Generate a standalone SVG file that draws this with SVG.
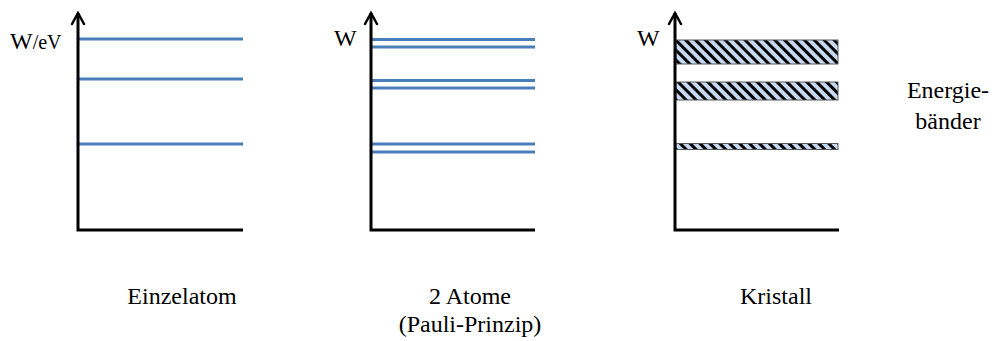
<svg xmlns="http://www.w3.org/2000/svg" width="998" height="341" viewBox="0 0 998 341">
<style>
.ax{stroke:#000;stroke-width:3;fill:none}
.arr{stroke:#000;stroke-width:2.5;fill:none;stroke-linecap:round;stroke-linejoin:miter}
.lvl{stroke:#4a7ebb;stroke-width:3}
.band{fill:url(#hatch);stroke:#595959;stroke-width:1}
.t{font-family:"Liberation Serif","Times New Roman",serif;font-size:24px;fill:#000}
</style>
<defs>
<pattern id="hatch" patternUnits="userSpaceOnUse" width="7" height="7" patternTransform="rotate(-45)">
<rect width="7" height="7" fill="#c6d9f1"/>
<rect x="0" y="0" width="3" height="7" fill="#000"/>
</pattern>
</defs>
<g id="einzelatom">
<text class="t" x="10" y="49">W<tspan font-size="20">/eV</tspan></text>
<line class="lvl" x1="79" y1="39" x2="243" y2="39"/>
<line class="lvl" x1="79" y1="79" x2="243" y2="79"/>
<line class="lvl" x1="79" y1="144" x2="243" y2="144"/>
<text class="t" x="182" y="304" text-anchor="middle">Einzelatom</text>
</g>
<g id="zwei-atome">
<text class="t" x="334" y="46">W</text>
<line class="lvl" x1="371" y1="39.5" x2="535" y2="39.5"/>
<line class="lvl" x1="371" y1="47" x2="535" y2="47"/>
<line class="lvl" x1="371" y1="80.5" x2="535" y2="80.5"/>
<line class="lvl" x1="371" y1="88" x2="535" y2="88"/>
<line class="lvl" x1="371" y1="144" x2="535" y2="144"/>
<line class="lvl" x1="371" y1="152" x2="535" y2="152"/>
<text class="t" x="470" y="304" text-anchor="middle">2 Atome</text>
<text class="t" x="470" y="332" text-anchor="middle">(Pauli-Prinzip)</text>
</g>
<g id="kristall">
<text class="t" x="637" y="46">W</text>
<rect class="band" x="676" y="40" width="162" height="24"/>
<rect class="band" x="676" y="82" width="162" height="18"/>
<rect class="band" x="676" y="143.5" width="162" height="6"/>
<text class="t" x="776" y="304" text-anchor="middle">Kristall</text>
</g>
<g id="energiebaender">
<text class="t" x="948" y="98" text-anchor="middle">Energie-</text>
<text class="t" x="948" y="129" text-anchor="middle">bänder</text>
</g>
<g id="connectors">
<path class="ax" d="M78 13 V230 H243"/>
<path class="arr" d="M72 24 L78 13 L84 24"/>
<path class="ax" d="M371 13 V230 H535"/>
<path class="arr" d="M365 24 L371 13 L377 24"/>
<path class="ax" d="M675 13 V230 H839"/>
<path class="arr" d="M669 24 L675 13 L681 24"/>
</g>
</svg>
